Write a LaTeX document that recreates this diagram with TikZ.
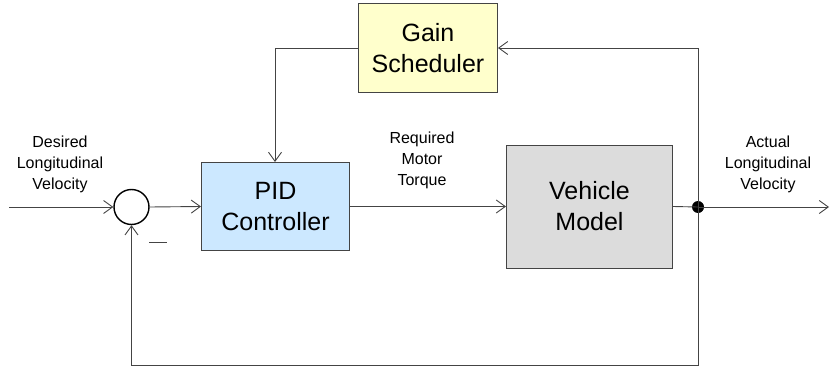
\documentclass[tikz,border=0pt]{standalone}
\usepackage{fontspec}
\setmainfont{Liberation Sans}
\usetikzlibrary{arrows.meta}
\definecolor{linec}{HTML}{444444}
\definecolor{gainfill}{HTML}{FFFFCC}
\definecolor{pidfill}{HTML}{CCE8FF}
\definecolor{vehfill}{HTML}{DCDCDC}
\tikzset{
  blk/.style={draw=linec, line width=1pt, minimum width=#1, align=center, inner sep=0pt,
    font=\fontsize{25}{31}\selectfont},
  lbl/.style={align=center, font=\fontsize{16}{21}\selectfont, inner sep=0pt},
  conn/.style={draw=linec, line width=0.9pt, -{Straight Barb[length=9pt,width=13pt,line width=0.9pt]}},
  wire/.style={draw=linec, line width=0.9pt},
}
\begin{document}
\begin{tikzpicture}[x=1pt,y=-1pt]
\useasboundingbox (0,0) rectangle (830,369);
\node[blk=139pt, minimum height=88pt, fill=gainfill] (gain) at (428,48) {Gain\\Scheduler};
\node[blk=148pt, minimum height=88pt, fill=pidfill] (pid) at (275.5,206.5) {PID\\Controller};
\node[blk=166pt, minimum height=123pt, fill=vehfill] (veh) at (589.5,206.5) {Vehicle\\Model};
\node[circle, draw=black, line width=1.4pt, minimum size=35pt, inner sep=0pt] (sum) at (131.5,207) {};
\node[circle, fill=black, minimum size=12pt, inner sep=0pt] (dot) at (698,207) {};
\coordinate (in) at (9,207);
\coordinate (out) at (829,207);
\coordinate (gr) at (698,48);
\coordinate (gl) at (275,48);
\coordinate (br) at (698,365);
\coordinate (bl) at (131.5,365);
\node[lbl] (l1) at (60,164) {Desired\\Longitudinal\\Velocity};
\node[lbl] (l2) at (422,160) {Required\\Motor\\Torque};
\node[lbl] (l3) at (768,164.5) {Actual\\Longitudinal\\Velocity};
\node[inner sep=0pt] (minus) at (158,242) {\tikz[x=1pt,y=1pt]\draw[linec,line width=1pt](0,0)--(18,0);};
\draw[conn] (in) -- (sum.west);
\draw[conn] (sum.east) -- (pid.west);
\draw[conn] (pid.east) -- (veh.west);
\draw[wire] (veh.east) -- (dot.center);
\draw[conn] (dot.center) -- (out);
\draw[conn] (dot.center) -- (gr) -- (gain.east);
\draw[conn] (gain.west) -- (gl) -- (pid.north -| gl);
\draw[conn] (dot.center) -- (br) -- (bl) -- (sum.south);
\end{tikzpicture}
\end{document}
